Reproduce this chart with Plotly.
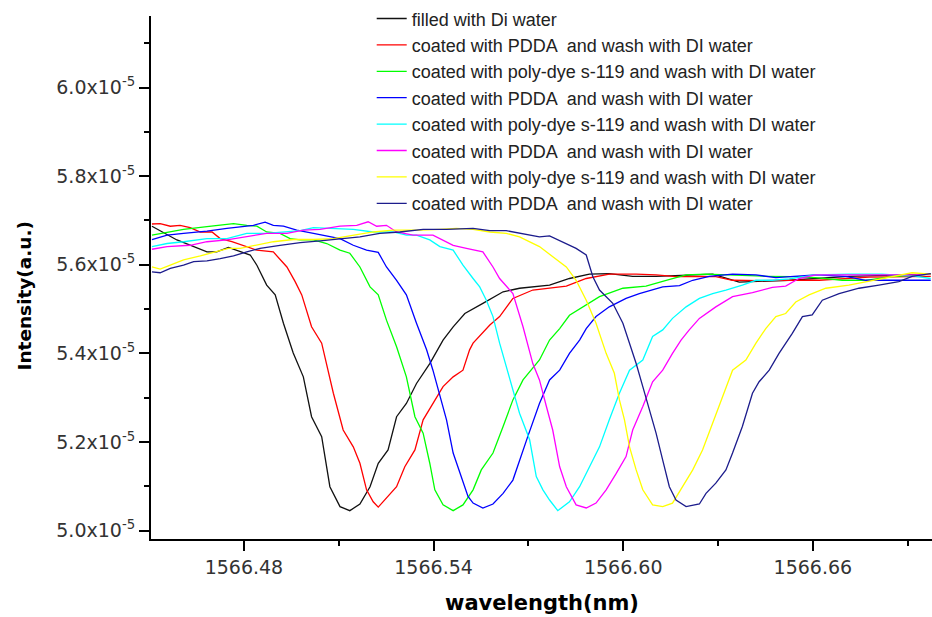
import plotly.graph_objects as go

SCALE = 1e-5  # intensity values below are in units of 1e-5 a.u.

names = [
    "filled with Di water",
    "coated with PDDA  and wash with DI water",
    "coated with poly-dye s-119 and wash with DI water",
    "coated with PDDA  and wash with DI water",
    "coated with poly-dye s-119 and wash with DI water",
    "coated with PDDA  and wash with DI water",
    "coated with poly-dye s-119 and wash with DI water",
    "coated with PDDA  and wash with DI water",
]
colors = ["#111111", "#ff0000", "#00ff00", "#0000ff", "#00ffff", "#ff00ff", "#ffff00", "#1c1c8c"]

wl_black = [1566.4509, 1566.4588, 1566.4683, 1566.4714, 1566.4751, 1566.4788, 1566.4820, 1566.4841, 1566.4872, 1566.4899,
            1566.4925, 1566.4956, 1566.4988, 1566.5014, 1566.5046, 1566.5072, 1566.5104, 1566.5135, 1566.5167, 1566.5199,
            1566.5225, 1566.5256, 1566.5283, 1566.5314, 1566.5346, 1566.5388, 1566.5430, 1566.5462, 1566.5499, 1566.5556,
            1566.5620, 1566.5672, 1566.5767, 1566.5830, 1566.5893, 1566.5956, 1566.6030, 1566.6104, 1566.6188, 1566.6283,
            1566.6367, 1566.6430, 1566.6525, 1566.6714, 1566.6973]
i_black = [5.687, 5.656, 5.629, 5.629, 5.639, 5.629, 5.622, 5.599, 5.554, 5.532,
           5.468, 5.401, 5.347, 5.257, 5.212, 5.099, 5.054, 5.045, 5.060, 5.099,
           5.152, 5.182, 5.257, 5.287, 5.332, 5.377, 5.430, 5.460, 5.490, 5.513,
           5.539, 5.547, 5.554, 5.569, 5.579, 5.580, 5.574, 5.574, 5.577, 5.579,
           5.561, 5.563, 5.565, 5.574, 5.579]

wl_red = [1566.4509, 1566.4535, 1566.4567, 1566.4598, 1566.4630, 1566.4662, 1566.4699, 1566.4725, 1566.4762, 1566.4798,
          1566.4841, 1566.4893, 1566.4936, 1566.4962, 1566.4983, 1566.5014, 1566.5046, 1566.5083, 1566.5114, 1566.5146,
          1566.5167, 1566.5188, 1566.5209, 1566.5225, 1566.5251, 1566.5283, 1566.5309, 1566.5341, 1566.5367, 1566.5398,
          1566.5430, 1566.5462, 1566.5493, 1566.5514, 1566.5525, 1566.5578, 1566.5609, 1566.5651, 1566.5714, 1566.5820,
          1566.5883, 1566.5956, 1566.6041, 1566.6104, 1566.6167, 1566.6241, 1566.6293, 1566.6346, 1566.6430, 1566.6525,
          1566.6620, 1566.6778, 1566.6973]
i_red = [5.692, 5.693, 5.687, 5.689, 5.684, 5.674, 5.674, 5.659, 5.652, 5.644,
         5.633, 5.629, 5.595, 5.562, 5.532, 5.460, 5.423, 5.310, 5.227, 5.189,
         5.152, 5.092, 5.065, 5.053, 5.073, 5.099, 5.144, 5.182, 5.250, 5.287,
         5.325, 5.347, 5.362, 5.408, 5.423, 5.464, 5.483, 5.524, 5.543, 5.552,
         5.569, 5.579, 5.579, 5.577, 5.573, 5.574, 5.573, 5.565, 5.564, 5.565,
         5.565, 5.572, 5.574]

wl_green = [1566.4509, 1566.4557, 1566.4609, 1566.4683, 1566.4767, 1566.4809, 1566.4841, 1566.4872, 1566.4914, 1566.4946,
            1566.4978, 1566.5020, 1566.5062, 1566.5104, 1566.5135, 1566.5167, 1566.5199, 1566.5225, 1566.5251, 1566.5283,
            1566.5314, 1566.5341, 1566.5367, 1566.5388, 1566.5404, 1566.5430, 1566.5462, 1566.5493, 1566.5525, 1566.5551,
            1566.5588, 1566.5620, 1566.5651, 1566.5683, 1566.5735, 1566.5767, 1566.5799, 1566.5830, 1566.5872, 1566.5925,
            1566.5999, 1566.6072, 1566.6136, 1566.6199, 1566.6262, 1566.6346, 1566.6409, 1566.6451, 1566.6535, 1566.6609,
            1566.6693, 1566.6767, 1566.6851, 1566.6925, 1566.6973]
i_green = [5.667, 5.674, 5.680, 5.686, 5.693, 5.689, 5.687, 5.674, 5.671, 5.659,
           5.656, 5.656, 5.648, 5.633, 5.626, 5.595, 5.550, 5.532, 5.475, 5.415,
           5.347, 5.257, 5.220, 5.152, 5.092, 5.058, 5.045, 5.058, 5.092, 5.137,
           5.175, 5.235, 5.295, 5.340, 5.385, 5.430, 5.456, 5.486, 5.505, 5.528,
           5.547, 5.552, 5.565, 5.577, 5.579, 5.577, 5.574, 5.574, 5.573, 5.571,
           5.565, 5.565, 5.573, 5.577, 5.579]

wl_blue = [1566.4509, 1566.4557, 1566.4609, 1566.4683, 1566.4746, 1566.4788, 1566.4830, 1566.4867, 1566.4893, 1566.4925,
           1566.4967, 1566.5020, 1566.5062, 1566.5104, 1566.5146, 1566.5188, 1566.5225, 1566.5251, 1566.5283, 1566.5314,
           1566.5346, 1566.5378, 1566.5398, 1566.5420, 1566.5441, 1566.5462, 1566.5483, 1566.5509, 1566.5525, 1566.5556,
           1566.5588, 1566.5620, 1566.5651, 1566.5672, 1566.5698, 1566.5735, 1566.5767, 1566.5799, 1566.5830, 1566.5862,
           1566.5883, 1566.5914, 1566.5956, 1566.6009, 1566.6051, 1566.6125, 1566.6178, 1566.6220, 1566.6272, 1566.6346,
           1566.6420, 1566.6483, 1566.6535, 1566.6609, 1566.6704, 1566.6767, 1566.6872, 1566.6973]
i_blue = [5.657, 5.667, 5.671, 5.676, 5.682, 5.686, 5.689, 5.696, 5.689, 5.687,
          5.678, 5.671, 5.665, 5.659, 5.644, 5.633, 5.628, 5.595, 5.565, 5.532,
          5.468, 5.408, 5.362, 5.302, 5.250, 5.175, 5.129, 5.077, 5.062, 5.051,
          5.060, 5.084, 5.114, 5.159, 5.212, 5.287, 5.340, 5.362, 5.400, 5.430,
          5.456, 5.483, 5.505, 5.524, 5.535, 5.550, 5.553, 5.565, 5.574, 5.579,
          5.577, 5.571, 5.574, 5.577, 5.574, 5.565, 5.565, 5.565]

wl_cyan = [1566.4509, 1566.4557, 1566.4609, 1566.4683, 1566.4746, 1566.4809, 1566.4872, 1566.4936, 1566.4978, 1566.5020,
           1566.5083, 1566.5146, 1566.5209, 1566.5272, 1566.5314, 1566.5346, 1566.5388, 1566.5420, 1566.5462, 1566.5493,
           1566.5525, 1566.5546, 1566.5567, 1566.5588, 1566.5609, 1566.5630, 1566.5651, 1566.5672, 1566.5704, 1566.5725,
           1566.5746, 1566.5767, 1566.5793, 1566.5830, 1566.5862, 1566.5893, 1566.5925, 1566.5956, 1566.5988, 1566.6020,
           1566.6062, 1566.6093, 1566.6125, 1566.6156, 1566.6199, 1566.6241, 1566.6283, 1566.6325, 1566.6377, 1566.6420,
           1566.6472, 1566.6525, 1566.6609, 1566.6714, 1566.6820, 1566.6925, 1566.6973]
i_cyan = [5.641, 5.648, 5.652, 5.659, 5.659, 5.671, 5.671, 5.674, 5.677, 5.684,
          5.682, 5.680, 5.674, 5.674, 5.667, 5.667, 5.656, 5.641, 5.633, 5.599,
          5.569, 5.550, 5.520, 5.483, 5.423, 5.370, 5.317, 5.265, 5.205, 5.122,
          5.092, 5.069, 5.045, 5.065, 5.099, 5.144, 5.189, 5.250, 5.310, 5.362,
          5.385, 5.438, 5.453, 5.479, 5.505, 5.524, 5.535, 5.543, 5.554, 5.565,
          5.565, 5.568, 5.577, 5.579, 5.579, 5.574, 5.569]

wl_magenta = [1566.4509, 1566.4557, 1566.4630, 1566.4683, 1566.4746, 1566.4809, 1566.4872, 1566.4936, 1566.4988, 1566.5041,
              1566.5104, 1566.5157, 1566.5193, 1566.5220, 1566.5251, 1566.5283, 1566.5335, 1566.5398, 1566.5462, 1566.5504,
              1566.5556, 1566.5588, 1566.5609, 1566.5651, 1566.5683, 1566.5714, 1566.5735, 1566.5757, 1566.5777, 1566.5799,
              1566.5820, 1566.5851, 1566.5883, 1566.5914, 1566.5946, 1566.5978, 1566.6009, 1566.6030, 1566.6062, 1566.6093,
              1566.6125, 1566.6156, 1566.6183, 1566.6209, 1566.6241, 1566.6293, 1566.6346, 1566.6409, 1566.6472, 1566.6514,
              1566.6556, 1566.6609, 1566.6714, 1566.6820, 1566.6925, 1566.6973]
i_magenta = [5.635, 5.641, 5.644, 5.652, 5.656, 5.663, 5.671, 5.671, 5.678, 5.680,
             5.687, 5.689, 5.697, 5.687, 5.689, 5.674, 5.667, 5.667, 5.644, 5.637,
             5.629, 5.595, 5.569, 5.535, 5.460, 5.377, 5.340, 5.280, 5.227, 5.144,
             5.099, 5.058, 5.051, 5.062, 5.092, 5.129, 5.167, 5.227, 5.280, 5.336,
             5.362, 5.400, 5.430, 5.453, 5.479, 5.505, 5.528, 5.537, 5.549, 5.552,
             5.569, 5.577, 5.577, 5.577, 5.577, 5.579]

wl_yellow = [1566.4509, 1566.4535, 1566.4567, 1566.4609, 1566.4662, 1566.4714, 1566.4751, 1566.4788, 1566.4841, 1566.4893,
             1566.4956, 1566.5020, 1566.5083, 1566.5146, 1566.5209, 1566.5272, 1566.5356, 1566.5420, 1566.5472, 1566.5525,
             1566.5578, 1566.5630, 1566.5672, 1566.5735, 1566.5777, 1566.5820, 1566.5851, 1566.5883, 1566.5914, 1566.5946,
             1566.5972, 1566.5988, 1566.6004, 1566.6020, 1566.6041, 1566.6062, 1566.6093, 1566.6125, 1566.6156, 1566.6188,
             1566.6220, 1566.6251, 1566.6283, 1566.6314, 1566.6346, 1566.6388, 1566.6420, 1566.6451, 1566.6483, 1566.6514,
             1566.6546, 1566.6588, 1566.6641, 1566.6714, 1566.6788, 1566.6851, 1566.6914, 1566.6973]
i_yellow = [5.595, 5.590, 5.599, 5.611, 5.620, 5.629, 5.637, 5.637, 5.644, 5.652,
            5.657, 5.657, 5.659, 5.667, 5.674, 5.678, 5.678, 5.680, 5.682, 5.680,
            5.674, 5.671, 5.663, 5.641, 5.618, 5.595, 5.565, 5.520, 5.468, 5.400,
            5.355, 5.295, 5.250, 5.189, 5.137, 5.092, 5.058, 5.054, 5.062, 5.099,
            5.137, 5.182, 5.242, 5.302, 5.362, 5.385, 5.423, 5.456, 5.483, 5.490,
            5.516, 5.532, 5.547, 5.554, 5.565, 5.574, 5.582, 5.579]

wl_navy = [1566.4509, 1566.4535, 1566.4567, 1566.4609, 1566.4641, 1566.4683, 1566.4725, 1566.4767, 1566.4809, 1566.4851,
           1566.4914, 1566.4978, 1566.5041, 1566.5104, 1566.5167, 1566.5230, 1566.5293, 1566.5367, 1566.5441, 1566.5525,
           1566.5578, 1566.5630, 1566.5672, 1566.5735, 1566.5767, 1566.5799, 1566.5851, 1566.5883, 1566.5904, 1566.5925,
           1566.5967, 1566.5999, 1566.6020, 1566.6041, 1566.6062, 1566.6083, 1566.6104, 1566.6125, 1566.6146, 1566.6167,
           1566.6199, 1566.6241, 1566.6262, 1566.6293, 1566.6325, 1566.6346, 1566.6377, 1566.6409, 1566.6430, 1566.6462,
           1566.6493, 1566.6535, 1566.6567, 1566.6598, 1566.6630, 1566.6683, 1566.6746, 1566.6809, 1566.6872, 1566.6914,
           1566.6973]
i_navy = [5.584, 5.582, 5.592, 5.599, 5.607, 5.609, 5.614, 5.620, 5.629, 5.637,
          5.644, 5.650, 5.654, 5.659, 5.663, 5.671, 5.674, 5.680, 5.680, 5.682,
          5.677, 5.677, 5.671, 5.663, 5.665, 5.654, 5.637, 5.622, 5.573, 5.543,
          5.513, 5.468, 5.423, 5.377, 5.325, 5.272, 5.220, 5.159, 5.099, 5.069,
          5.054, 5.060, 5.084, 5.107, 5.137, 5.175, 5.235, 5.310, 5.336, 5.362,
          5.400, 5.445, 5.483, 5.487, 5.520, 5.535, 5.547, 5.554, 5.562, 5.574,
          5.580]

y_tick_vals = [5.0, 5.2, 5.4, 5.6, 5.8, 6.0]
y_tick_text = ["5.0x10<sup>-5</sup>", "5.2x10<sup>-5</sup>", "5.4x10<sup>-5</sup>",
               "5.6x10<sup>-5</sup>", "5.8x10<sup>-5</sup>", "6.0x10<sup>-5</sup>"]

series = [
    (wl_black, i_black), (wl_red, i_red), (wl_green, i_green), (wl_blue, i_blue),
    (wl_cyan, i_cyan), (wl_magenta, i_magenta), (wl_yellow, i_yellow), (wl_navy, i_navy),
]

fig = go.Figure()
for (wl, inten), name, col in zip(series, names, colors):
    fig.add_trace(go.Scatter(
        x=wl, y=[v * SCALE for v in inten], mode="lines", name=name,
        line=dict(color=col, width=1.3),
    ))

TICK_FONT = dict(family="DejaVu Sans", size=19, color="#333333")

fig.update_layout(
    width=932, height=617,
    margin=dict(l=151, r=0, t=16, b=78),
    paper_bgcolor="white", plot_bgcolor="white",
    showlegend=True,
    legend=dict(
        x=0.2826, xanchor="left", y=1.03, yanchor="top",
        font=dict(family="Liberation Sans, Arial", size=18, color="#222222"),
        bgcolor="rgba(0,0,0,0)", borderwidth=0, itemwidth=30,
    ),
    xaxis=dict(
        range=[1566.4506, 1566.6977],
        tickmode="linear", tick0=1566.48, dtick=0.06, tickformat=".2f",
        ticks="outside", ticklen=10, tickwidth=2, tickcolor="black",
        showline=True, linecolor="black", linewidth=2,
        showgrid=False, zeroline=False,
        tickfont=TICK_FONT,
        minor=dict(tickmode="linear", tick0=1566.45, dtick=0.03, ticks="outside",
                   ticklen=5, tickwidth=2, tickcolor="black", showgrid=False),
    ),
    yaxis=dict(
        range=[4.981 * SCALE, 6.1615 * SCALE],
        tickmode="array", tickvals=[v * SCALE for v in y_tick_vals], ticktext=y_tick_text,
        ticks="outside", ticklen=10, tickwidth=2, tickcolor="black",
        showline=True, linecolor="black", linewidth=2,
        showgrid=False, zeroline=False,
        tickfont=TICK_FONT,
        minor=dict(tickmode="linear", tick0=5.0 * SCALE, dtick=0.1 * SCALE, ticks="outside",
                   ticklen=5, tickwidth=2, tickcolor="black", showgrid=False),
    ),
    annotations=[
        dict(text="Intensity(a.u.)", xref="paper", yref="paper",
             x=(23.5 - 151) / 781, y=(539 - 296) / 523, xanchor="center", yanchor="middle",
             textangle=-90, showarrow=False,
             font=dict(family="DejaVu Sans", size=18.5, color="black", weight="bold")),
        dict(text="wavelength(nm)", xref="paper", yref="paper",
             x=(542 - 151) / 781, y=(539 - 603) / 523, xanchor="center", yanchor="middle",
             showarrow=False,
             font=dict(family="DejaVu Sans", size=21, color="black", weight="bold")),
    ],
)

fig.write_html("out.html")
